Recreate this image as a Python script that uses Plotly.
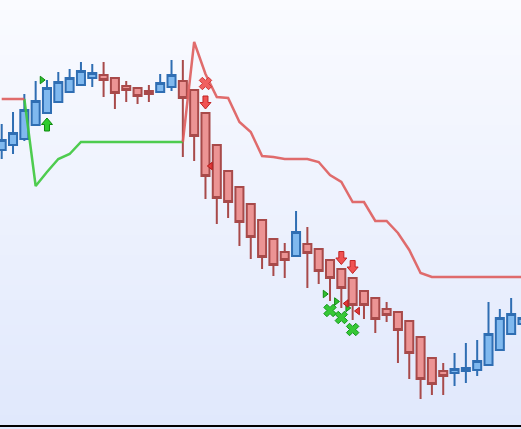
import plotly.graph_objects as go

# ---------------- data (prices) ----------------
idx = list(range(47))
opens = [350, 355, 361, 375, 387, 398, 408, 415, 422, 425,
         422, 414, 412, 409, 408, 413, 419, 410, 387, 355,
         329, 313, 296, 280, 261, 248, 244, 256, 251, 240,
         231, 222, 209, 202, 191, 188, 179, 163, 142, 129,
         127, 129, 130, 135, 150, 166, 176]
highs = [376, 388, 406, 419, 420, 428, 431, 438, 436, 438,
         423, 419, 413, 415, 426, 440, 440, 411, 388, 356,
         330, 314, 297, 281, 262, 257, 289, 273, 252, 241,
         232, 223, 210, 203, 198, 189, 180, 164, 143, 137,
         147, 157, 160, 198, 191, 202, 190]
lows = [341, 346, 359, 374, 386, 397, 407, 414, 413, 403,
        391, 398, 396, 398, 407, 409, 343, 339, 301, 276,
        282, 254, 241, 231, 224, 222, 243, 212, 216, 199,
        192, 180, 181, 167, 178, 137, 121, 101, 105, 105,
        114, 117, 124, 134, 149, 165, 175]
closes = [360, 367, 390, 399, 412, 418, 422, 429, 427, 420,
          407, 410, 404, 406, 417, 425, 402, 364, 324, 302,
          298, 278, 263, 243, 235, 240, 268, 247, 229, 222,
          212, 195, 195, 181, 185, 170, 147, 121, 116, 124,
          131, 132, 139, 166, 182, 186, 182]

# trailing stop lines
red_stop = [401, 401, 401] + [None] * 13 + [
    358, 458, 426, 403, 402, 378, 368, 344, 343, 341,
    341, 341, 338, 325, 318, 298, 298, 279, 279, 267,
    250, 227, 223, 223, 223, 223, 223, 223, 223, 223, 223]
green_stop = [None, None, 401, 314, 328, 341, 346, 358, 358, 358,
              358, 358, 358, 358, 358, 358, 358] + [None] * 30

# signals
buy_arrow_i = [4]
buy_arrow_p = [375.5]
sell_arrow_i = [18, 30, 31]
sell_arrow_p = [397.5, 242, 233]
sell_x_i = [18]
sell_x_p = [416.5]
buy_x_i = [29, 30, 31]
buy_x_p = [189.5, 182.5, 170.5]
green_tri_i = [4, 29, 30, 31]
green_tri_p = [420, 206, 198.5, 192]
red_tri_i = [18, 30, 31]
red_tri_p = [334, 196.5, 189]

# ---------------- styling ----------------
W, H = 521, 429
PLOT_H = 425
X_RANGE = [-0.15, 45.87]
Y_RANGE = [75, 500]
PX_X = (X_RANGE[1] - X_RANGE[0]) / W      # index units per pixel
PX_Y = (Y_RANGE[1] - Y_RANGE[0]) / PLOT_H  # price units per pixel
TRI_OFF = 0.45

fig = go.Figure()

fig.add_trace(go.Scatter(x=idx, y=green_stop, mode="lines",
                         line=dict(color="rgba(60,200,60,0.9)", width=2.5),
                         hoverinfo="skip", showlegend=False))
fig.add_trace(go.Scatter(x=idx, y=red_stop, mode="lines",
                         line=dict(color="rgba(222,92,92,0.9)", width=2.5),
                         hoverinfo="skip", showlegend=False))

fig.add_trace(go.Candlestick(
    x=idx, open=opens, high=highs, low=lows, close=closes,
    increasing=dict(fillcolor="#80b9ef", line=dict(color="#2f6eb3", width=2)),
    decreasing=dict(fillcolor="#ec9494", line=dict(color="#a84a4a", width=2)),
    whiskerwidth=0, showlegend=False, hoverinfo="skip"))


def arrows(ii, pp, up):
    s = 1 if up else -1
    shape = [(0, 6.5), (5.5, 0), (2.5, 0), (2.5, -6.5), (-2.5, -6.5),
             (-2.5, 0), (-5.5, 0), (0, 6.5)]
    xs, ys = [], []
    for i, p in zip(ii, pp):
        for dx, dy in shape:
            xs.append(i + dx * PX_X)
            ys.append(p + s * dy * PX_Y)
        xs.append(None)
        ys.append(None)
    return xs, ys


bx, by = arrows(buy_arrow_i, buy_arrow_p, True)
fig.add_trace(go.Scatter(x=bx, y=by, mode="lines", fill="toself",
                         fillcolor="#2ecc2e", line=dict(color="#0d8a0d", width=1),
                         hoverinfo="skip", showlegend=False))
sx, sy = arrows(sell_arrow_i, sell_arrow_p, False)
fig.add_trace(go.Scatter(x=sx, y=sy, mode="lines", fill="toself",
                         fillcolor="#f05252", line=dict(color="#c02424", width=1),
                         hoverinfo="skip", showlegend=False))

fig.add_trace(go.Scatter(x=sell_x_i, y=sell_x_p, mode="markers",
                         marker=dict(symbol="x", size=11, color="#f06060",
                                     line=dict(color="#d03636", width=1)),
                         hoverinfo="skip", showlegend=False))
fig.add_trace(go.Scatter(x=buy_x_i, y=buy_x_p, mode="markers",
                         marker=dict(symbol="x", size=11, color="#36c836",
                                     line=dict(color="#12961a", width=1)),
                         hoverinfo="skip", showlegend=False))

fig.add_trace(go.Scatter(x=[i - TRI_OFF for i in green_tri_i], y=green_tri_p,
                         mode="markers",
                         marker=dict(symbol="triangle-right", size=6.5, color="#2ec02e",
                                     line=dict(color="#128a12", width=1)),
                         hoverinfo="skip", showlegend=False))
fig.add_trace(go.Scatter(x=[i + TRI_OFF for i in red_tri_i], y=red_tri_p,
                         mode="markers",
                         marker=dict(symbol="triangle-left", size=6.5, color="#e23a3a",
                                     line=dict(color="#b41c1c", width=1)),
                         hoverinfo="skip", showlegend=False))

# background gradient
top = (250, 251, 255)
bot = (224, 232, 252)
n = 85
shapes = []
for k in range(n):
    t = (k + 0.5) / n
    c = tuple(round(top[j] + (bot[j] - top[j]) * t) for j in range(3))
    shapes.append(dict(type="rect", xref="paper", yref="paper",
                       x0=0, x1=1, y0=1 - (k + 1) / n, y1=1 - k / n,
                       line=dict(width=0), fillcolor="rgb(%d,%d,%d)" % c,
                       layer="below"))

fig.update_layout(
    width=W, height=H,
    margin=dict(l=0, r=0, t=0, b=H - PLOT_H),
    paper_bgcolor="rgb(224,232,252)", plot_bgcolor="rgb(240,243,254)",
    shapes=shapes, showlegend=False,
    boxgap=0.29, boxgroupgap=0,
    xaxis=dict(range=X_RANGE, showgrid=False, zeroline=False,
               showticklabels=False, ticks="", rangeslider=dict(visible=False),
               showline=True, linecolor="#000000", linewidth=1.5),
    yaxis=dict(range=Y_RANGE, showgrid=False, zeroline=False,
               showticklabels=False, ticks="", showline=False),
)

fig.write_html("out.html", config={"displayModeBar": False, "staticPlot": True},
               post_script="document.body.style.margin='0';"
                           "document.body.style.overflow='hidden';")
